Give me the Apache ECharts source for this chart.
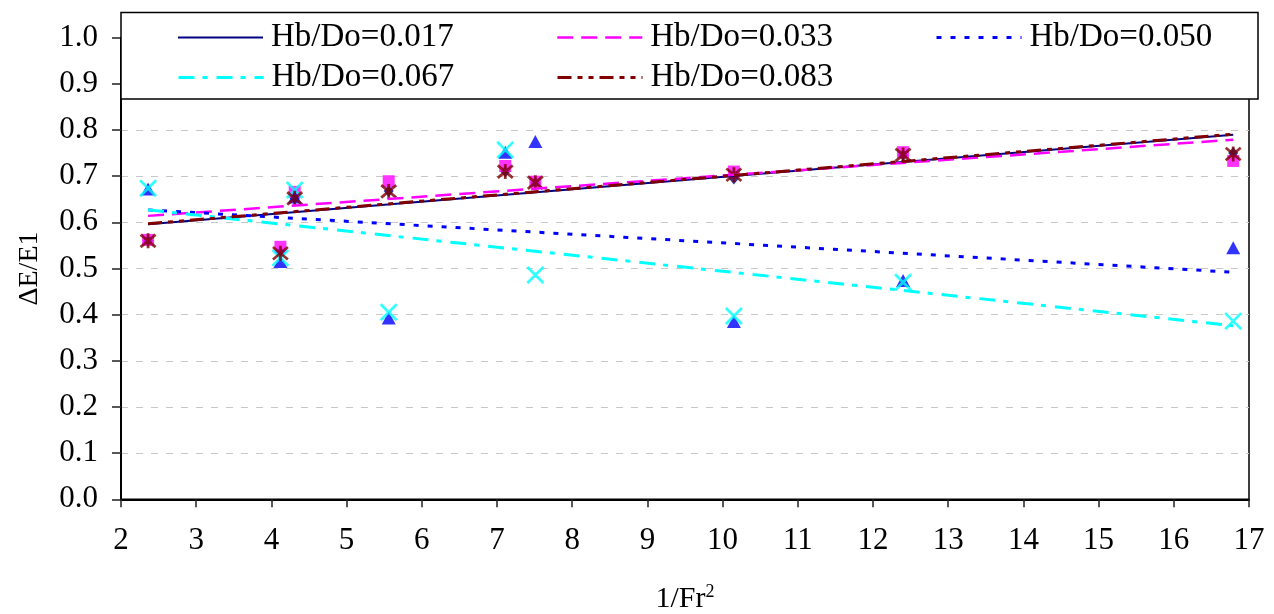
<!DOCTYPE html>
<html>
<head>
<meta charset="utf-8">
<script src="https://cdn.jsdelivr.net/npm/echarts@6/dist/echarts.min.js"></script>
<style>
html,body{margin:0;padding:0;background:#fff;}
#chart{width:1274px;height:614px;}
</style>
</head>
<body>
<div id="chart"></div>
<script>
// ---- data ----
const seriesNames = ['Hb/Do=0.017', 'Hb/Do=0.033', 'Hb/Do=0.050', 'Hb/Do=0.067', 'Hb/Do=0.083'];
const xVals   = [2.36, 4.12, 4.31, 5.56, 7.11, 7.51, 10.15, 12.40, 16.79];
const pts017  = [0.560, 0.535, 0.652, 0.668, 0.710, 0.685, 0.695, 0.746, 0.750];
const pts033  = [0.562, 0.547, 0.666, 0.689, 0.722, 0.688, 0.710, 0.752, 0.733];
const pts050  = [0.672, 0.515, 0.655, 0.393, 0.752, 0.775, 0.385, 0.474, 0.545];
const pts067  = [0.674, 0.523, 0.670, 0.405, 0.757, 0.486, 0.397, 0.470, 0.386];
const pts083  = [0.560, 0.533, 0.652, 0.667, 0.710, 0.686, 0.703, 0.746, 0.748];
const trendX   = [2.36, 16.79];
const trend017 = [0.596, 0.790];
const trend033 = [0.614, 0.779];
const trend050 = [0.627, 0.492];
const trend067 = [0.627, 0.376];
const trend083 = [0.597, 0.791];
const yAxisTitle = 'ΔE/E1';
const xAxisTitle = '1/Fr{sup|2}';

const FONT = "'Liberation Serif', 'Times New Roman', serif";
const pair = (xs, ys) => xs.map((x, i) => [x, ys[i]]);

const colors = ['#000080', '#FF00FF', '#0000FF', '#00FFFF', '#800000'];
const lineTypes = ['solid', [16, 8], [5, 9], [16, 8, 5, 9], [14, 6, 5, 6, 5, 6]];
const lineWidths = [2, 2.5, 3, 3, 3];
const trends = [trend017, trend033, trend050, trend067, trend083];
const pts = [pts017, pts033, pts050, pts067, pts083];

const xPath = 'path://M0,0L10,10M10,0L0,10';
const starPath = 'path://M0,0L10,10M10,0L0,10M5,-1L5,11';
const markers = [
  {symbol: 'diamond', size: [10, 12], style: {color: colors[0]}},
  {symbol: 'rect', size: 12, style: {color: colors[1]}},
  {symbol: 'triangle', size: [14, 13], style: {color: colors[2]}},
  {symbol: xPath, size: 16, style: {color: 'none', borderColor: colors[3], borderWidth: 2.8}},
  {symbol: starPath, size: 15, style: {color: 'none', borderColor: colors[4], borderWidth: 2.8}}
];

const series = [];
pts.forEach((p, i) => {
  series.push({
    name: 'pts' + i,
    type: 'scatter',
    data: pair(xVals, p),
    symbol: markers[i].symbol,
    symbolSize: markers[i].size,
    itemStyle: markers[i].style,
    z: 3 + i,
    silent: true
  });
});
trends.forEach((t, i) => {
  series.push({
    name: seriesNames[i],
    type: 'line',
    data: pair(trendX, t),
    symbol: 'none',
    showSymbol: false,
    lineStyle: {color: colors[i], width: lineWidths[i], type: lineTypes[i]},
    itemStyle: {color: colors[i]},
    z: 10,
    silent: true
  });
});

const legendPos = [[177, 21], [556, 21], [935, 21], [177, 61], [556, 61]];
const legends = seriesNames.map((n, i) => ({
  data: [n],
  left: legendPos[i][0],
  top: legendPos[i][1],
  padding: 0,
  itemWidth: 85,
  itemHeight: 14,
  itemGap: 0,
  selectedMode: false,
  z: 20,
  itemStyle: {opacity: 0},
  lineStyle: {width: lineWidths[i], color: colors[i], type: lineTypes[i]},
  textStyle: {fontSize: 33, fontFamily: FONT, color: '#000', padding: [0, 0, 0, 3]}
}));

const chart = echarts.init(document.getElementById('chart'), null, {renderer: 'canvas'});
chart.setOption({
  animation: false,
  backgroundColor: '#fff',
  grid: {left: 121, right: 25, top: 37.7, bottom: 114.7, containLabel: false, outerBoundsMode: 'none',
    show: true, borderColor: '#000', borderWidth: 1.5, backgroundColor: 'transparent'},
  legend: legends,
  graphic: [{
    type: 'rect', z: 15,
    shape: {x: 121, y: 12.5, width: 1137, height: 86.5},
    style: {fill: '#fff', stroke: '#000', lineWidth: 1.5}
  }],
  xAxis: {
    type: 'value', min: 2, max: 17, interval: 1,
    axisLine: {show: true, onZero: false, lineStyle: {color: '#000', width: 2}},
    axisTick: {show: true, inside: false, length: 8, lineStyle: {color: '#222', width: 1.5}},
    axisLabel: {fontSize: 31, fontFamily: FONT, color: '#000', margin: 26},
    splitLine: {show: false},
    name: xAxisTitle, nameLocation: 'middle', nameGap: 84,
    nameTextStyle: {fontSize: 30, fontFamily: FONT, color: '#000',
      rich: {sup: {fontSize: 18, fontFamily: FONT, color: '#000', verticalAlign: 'top', padding: [0, 0, 14, 0]}}}
  },
  yAxis: {
    type: 'value', min: 0, max: 1, interval: 0.1,
    axisLine: {show: true, onZero: false, lineStyle: {color: '#000', width: 2}},
    axisTick: {show: true, inside: false, length: 9, lineStyle: {color: '#222', width: 1.5}},
    axisLabel: {fontSize: 31, fontFamily: FONT, color: '#000', margin: 23, formatter: v => v.toFixed(1)},
    splitLine: {show: true, lineStyle: {color: '#c8c8c8', width: 1.2, type: [7, 8]}},
    name: yAxisTitle, nameLocation: 'middle', nameGap: 77, nameRotate: 90,
    nameTextStyle: {fontSize: 28, fontFamily: FONT, color: '#000'}
  },
  series: series
});
</script>
</body>
</html>
